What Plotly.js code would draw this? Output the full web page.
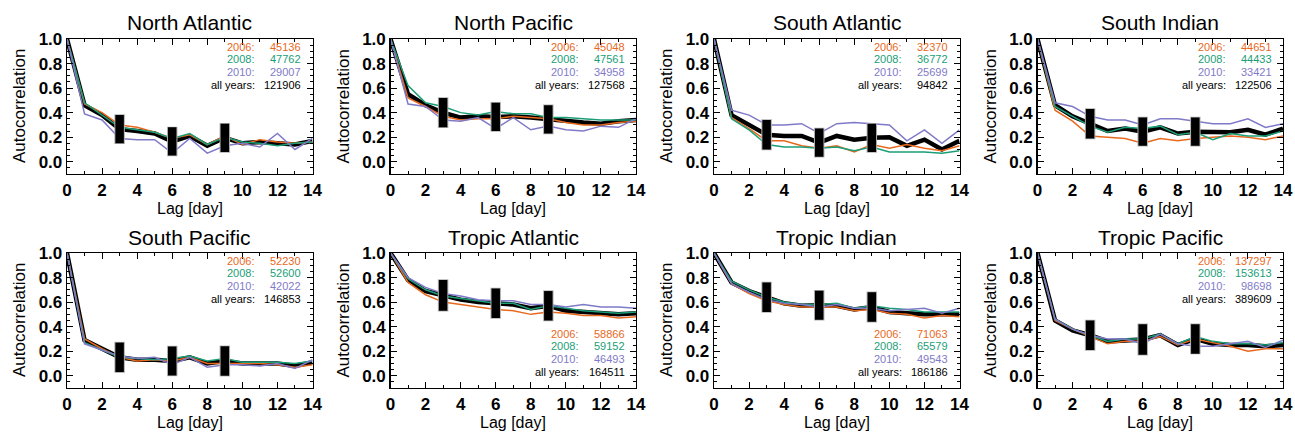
<!DOCTYPE html>
<html><head><meta charset="utf-8">
<script src="https://cdn.plot.ly/plotly-3.0.1.min.js"></script>
<style>html,body{margin:0;padding:0;background:#fff}</style>
</head><body><div id="chart" style="width:1295px;height:432px"></div>
<script>
// ---------------- DATA ----------------
const lags = [0,1,2,3,4,5,6,7,8,9,10,11,12,13,14];
const regions = ['North Atlantic','North Pacific','South Atlantic','South Indian',
                 'South Pacific','Tropic Atlantic','Tropic Indian','Tropic Pacific'];
const yearLabels = ['2006:','2008:','2010:','all years:'];
const counts2006 = [45136, 45048, 32370, 44651, 52230, 58866, 71063, 137297];
const counts2008 = [47762, 47561, 36772, 44433, 52600, 59152, 65579, 153613];
const counts2010 = [29007, 34958, 25699, 33421, 42022, 46493, 49543, 98698];
const countsAll  = [121906, 127568, 94842, 122506, 146853, 164511, 186186, 389609];
const legendAtBottom = [false,false,false,false,false,true,true,false];

// North Atlantic
const naY2006 = [1.0,0.47,0.40,0.30,0.28,0.24,0.19,0.22,0.14,0.21,0.14,0.18,0.16,0.15,0.16];
const naY2008 = [1.0,0.48,0.38,0.28,0.26,0.24,0.19,0.23,0.14,0.20,0.16,0.15,0.13,0.15,0.16];
const naY2010 = [1.0,0.39,0.34,0.19,0.18,0.18,0.07,0.19,0.07,0.13,0.15,0.12,0.23,0.10,0.19];
const naAll   = [1.0,0.46,0.38,0.265,0.25,0.23,0.165,0.21,0.13,0.195,0.15,0.16,0.15,0.14,0.17];
// North Pacific
const npY2006 = [1.0,0.52,0.45,0.37,0.34,0.35,0.35,0.37,0.36,0.35,0.32,0.30,0.30,0.32,0.33];
const npY2008 = [1.0,0.62,0.48,0.45,0.40,0.38,0.41,0.39,0.39,0.36,0.36,0.35,0.34,0.34,0.34];
const npY2010 = [1.0,0.47,0.45,0.34,0.33,0.36,0.27,0.36,0.26,0.29,0.26,0.25,0.29,0.28,0.35];
const npAll   = [1.0,0.55,0.46,0.40,0.36,0.37,0.365,0.37,0.36,0.345,0.33,0.32,0.31,0.33,0.34];
// South Atlantic
const saY2006 = [1.0,0.36,0.27,0.17,0.17,0.13,0.11,0.13,0.08,0.14,0.11,0.14,0.11,0.09,0.13];
const saY2008 = [1.0,0.35,0.26,0.14,0.12,0.12,0.11,0.12,0.09,0.12,0.08,0.08,0.08,0.07,0.09];
const saY2010 = [1.0,0.42,0.38,0.30,0.30,0.31,0.23,0.31,0.32,0.31,0.30,0.17,0.26,0.15,0.26];
const saAll   = [1.0,0.38,0.30,0.22,0.21,0.21,0.155,0.21,0.18,0.195,0.20,0.13,0.18,0.10,0.17];
// South Indian
const siY2006 = [1.0,0.42,0.33,0.21,0.20,0.19,0.15,0.19,0.17,0.19,0.20,0.21,0.20,0.18,0.21];
const siY2008 = [1.0,0.45,0.37,0.29,0.24,0.28,0.27,0.29,0.22,0.24,0.18,0.23,0.21,0.21,0.25];
const siY2010 = [1.0,0.48,0.45,0.37,0.34,0.34,0.30,0.35,0.35,0.33,0.31,0.31,0.35,0.28,0.31];
const siAll   = [1.0,0.46,0.37,0.31,0.25,0.27,0.245,0.28,0.23,0.245,0.24,0.24,0.26,0.22,0.27];
// South Pacific
const spY2006 = [1.0,0.30,0.22,0.15,0.12,0.13,0.12,0.15,0.10,0.10,0.10,0.10,0.09,0.07,0.09];
const spY2008 = [1.0,0.27,0.21,0.15,0.14,0.13,0.14,0.16,0.12,0.14,0.11,0.11,0.11,0.10,0.12];
const spY2010 = [1.0,0.26,0.21,0.16,0.14,0.15,0.09,0.15,0.07,0.09,0.09,0.08,0.10,0.06,0.13];
const spAll   = [1.0,0.29,0.22,0.15,0.13,0.13,0.12,0.15,0.10,0.12,0.10,0.10,0.10,0.08,0.11];
// Tropic Atlantic
const taY2006 = [1.0,0.76,0.66,0.60,0.58,0.56,0.54,0.53,0.50,0.52,0.51,0.49,0.49,0.47,0.48];
const taY2008 = [1.0,0.79,0.70,0.65,0.63,0.61,0.59,0.59,0.54,0.57,0.55,0.53,0.52,0.51,0.52];
const taY2010 = [1.0,0.80,0.72,0.67,0.65,0.62,0.61,0.61,0.58,0.58,0.56,0.58,0.56,0.56,0.55];
const taAll   = [1.0,0.78,0.69,0.655,0.62,0.60,0.59,0.58,0.55,0.57,0.53,0.52,0.51,0.50,0.51];
// Tropic Indian
const tiY2006 = [1.0,0.75,0.67,0.61,0.58,0.56,0.56,0.56,0.53,0.54,0.51,0.50,0.47,0.49,0.48];
const tiY2008 = [1.0,0.77,0.70,0.64,0.60,0.58,0.58,0.59,0.55,0.57,0.55,0.54,0.52,0.52,0.52];
const tiY2010 = [1.0,0.75,0.68,0.62,0.59,0.58,0.56,0.58,0.55,0.55,0.53,0.54,0.55,0.51,0.55];
const tiAll   = [1.0,0.76,0.69,0.64,0.59,0.57,0.575,0.57,0.54,0.56,0.52,0.51,0.50,0.50,0.50];
// Tropic Pacific
const tpY2006 = [1.0,0.45,0.38,0.32,0.26,0.28,0.28,0.32,0.25,0.30,0.27,0.24,0.20,0.22,0.22];
const tpY2008 = [1.0,0.46,0.38,0.33,0.28,0.30,0.30,0.34,0.26,0.32,0.28,0.26,0.26,0.25,0.27];
const tpY2010 = [1.0,0.46,0.38,0.33,0.30,0.30,0.26,0.34,0.26,0.24,0.24,0.26,0.28,0.23,0.29];
const tpAll   = [1.0,0.45,0.37,0.33,0.28,0.29,0.295,0.33,0.25,0.30,0.26,0.25,0.25,0.24,0.25];

// spread bars at selected lags (half-lengths)
const barLags = [3,6,9];
const barHalf = [
  [0.115,0.115,0.115],[0.12,0.115,0.115],[0.12,0.115,0.115],[0.12,0.115,0.115],
  [0.12,0.118,0.12],[0.125,0.12,0.12],[0.12,0.118,0.12],[0.12,0.125,0.12]
];

const series2006 = [naY2006,npY2006,saY2006,siY2006,spY2006,taY2006,tiY2006,tpY2006];
const series2008 = [naY2008,npY2008,saY2008,siY2008,spY2008,taY2008,tiY2008,tpY2008];
const series2010 = [naY2010,npY2010,saY2010,siY2010,spY2010,taY2010,tiY2010,tpY2010];
const seriesAll  = [naAll,npAll,saAll,siAll,spAll,taAll,tiAll,tpAll];

// ---------------- STYLE / LAYOUT ----------------
const W = 1295, H = 432;
const C2006 = '#e8691e', C2008 = '#1b9e77', C2010 = '#7f7ac8';
const FONT = 'Liberation Sans, Arial, Helvetica, sans-serif';
const colLeft = c => 67 + 323.5 * c;
const plotW = 245.5, plotH = 135;
const rowTop = [39, 253];
const px = v => v / W, py = v => 1 - v / H;

const traces = [];
const layout = {
  width: W, height: H, margin: {l:0,r:0,t:0,b:0},
  paper_bgcolor: '#fff', plot_bgcolor: '#fff', showlegend: false,
  font: {family: FONT, color: '#000'},
  annotations: []
};

regions.forEach((name, i) => {
  const s = i === 0 ? '' : String(i + 1);
  const xa = 'x' + s, ya = 'y' + s;
  const c = i % 4, r = Math.floor(i / 4);
  const L = colLeft(c), T = rowTop[r];

  traces.push({x: lags, y: seriesAll[i], xaxis: xa, yaxis: ya, mode: 'lines',
               line: {color: '#000', width: 4.5}, hoverinfo: 'skip'});
  [[series2006, C2006], [series2008, C2008], [series2010, C2010]].forEach(([arr, col]) => {
    traces.push({x: lags, y: arr[i], xaxis: xa, yaxis: ya, mode: 'lines',
                 line: {color: col, width: 1.5}, hoverinfo: 'skip'});
  });
  const barY = barLags.map(l => seriesAll[i][l]);
  traces.push({x: barLags, y: barY, xaxis: xa, yaxis: ya, mode: 'markers',
               marker: {size: 1, color: '#999'}, hoverinfo: 'skip',
               error_y: {type: 'data', array: barHalf[i].map(h => h + 0.006), visible: true,
                         thickness: 10.5, width: 0, color: '#b0b0b0'}});
  traces.push({x: barLags, y: barY, xaxis: xa, yaxis: ya, mode: 'markers',
               marker: {size: 1, color: '#000'}, hoverinfo: 'skip',
               error_y: {type: 'data', array: barHalf[i], visible: true,
                         thickness: 8.5, width: 0, color: '#000'}});

  const common = {
    showgrid: false, zeroline: false, showline: true, linecolor: '#000', linewidth: 1.3,
    mirror: 'ticks', ticks: 'inside', ticklen: 6, tickwidth: 1, tickcolor: '#000',
    tickfont: {family: FONT, size: 17, color: '#000', weight: 'bold'},
    fixedrange: true
  };
  layout['xaxis' + s] = Object.assign({}, common, {
    domain: [px(L), px(L + plotW)], anchor: ya, range: [0, 14], tick0: 0, dtick: 2,
    minor: {dtick: 1, ticks: 'inside', ticklen: 3, tickcolor: '#000'}
  });
  layout['yaxis' + s] = Object.assign({}, common, {
    domain: [py(T + plotH), py(T)], anchor: xa, range: [-0.1, 1.0], tick0: 0, dtick: 0.2,
    tickformat: '.1f',
    minor: {dtick: 0.05, ticks: 'inside', ticklen: 3, tickcolor: '#000'}
  });

  // titles
  layout.annotations.push({text: name, xref: 'paper', yref: 'paper', x: px(L + plotW / 2),
    y: py(T - 16), xanchor: 'center', yanchor: 'middle', showarrow: false,
    font: {family: FONT, size: 21, color: '#000'}});
  layout.annotations.push({text: 'Lag [day]', xref: 'paper', yref: 'paper', x: px(L + plotW / 2),
    y: py(T + plotH + 34.5), xanchor: 'center', yanchor: 'middle', showarrow: false,
    font: {family: FONT, size: 16, color: '#000'}});
  layout.annotations.push({text: 'Autocorrelation', xref: 'paper', yref: 'paper', x: px(L - 47.5),
    y: py(T + plotH / 2), xanchor: 'center', yanchor: 'middle', textangle: -90, showarrow: false,
    font: {family: FONT, size: 17, color: '#000'}});

  // count legend
  const counts = [counts2006[i], counts2008[i], counts2010[i], countsAll[i]];
  const cols = [C2006, C2008, C2010, '#000'];
  const firstRow = legendAtBottom[i] ? T + 80.5 : T + 7.7;
  counts.forEach((n, k) => {
    const yy = py(firstRow + k * 12.7);
    layout.annotations.push({text: yearLabels[k], xref: 'paper', yref: 'paper',
      x: px(L + plotW - 55.5), y: yy, xanchor: 'right', yanchor: 'middle', showarrow: false,
      font: {family: FONT, size: 11, color: cols[k]}});
    layout.annotations.push({text: String(n), xref: 'paper', yref: 'paper',
      x: px(L + plotW - 9.5), y: yy, xanchor: 'right', yanchor: 'middle', showarrow: false,
      font: {family: FONT, size: 11, color: cols[k]}});
  });
});

Plotly.newPlot('chart', traces, layout, {staticPlot: true, displayModeBar: false});
</script></body></html>
